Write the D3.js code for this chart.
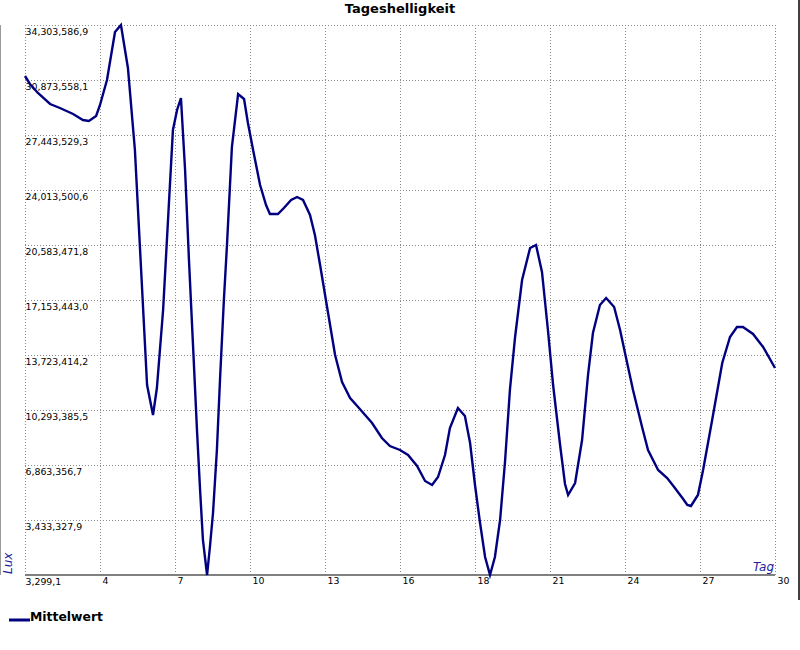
<!DOCTYPE html>
<html>
<head>
<meta charset="utf-8">
<script src="https://cdn.jsdelivr.net/npm/d3@7"></script>
<style>
  html, body { margin: 0; padding: 0; background: #fff; }
  svg { display: block; }
</style>
</head>
<body>
<svg id="chart" width="800" height="650"></svg>
<script>
// ---- data ----
const days = [1.00, 1.19, 1.50, 1.97, 2.35, 2.86, 3.24, 3.47, 3.75, 3.90, 4.17, 4.48, 4.71, 4.98, 5.25, 5.49, 5.72, 5.95,
  6.10, 6.34, 6.53, 6.72, 6.88, 7.03, 7.19, 7.34, 7.50, 7.65, 7.77, 7.88, 8.04, 8.15, 8.27, 8.42, 8.54, 8.69, 8.81,
  9.00, 9.24, 9.47, 9.62, 9.82, 10.09, 10.32, 10.47, 10.78, 11.01, 11.29, 11.52, 11.75, 12.02, 12.21, 12.41, 12.68,
  12.99, 13.26, 13.57, 13.88, 14.15, 14.42, 14.80, 15.11, 15.50, 15.81, 16.16, 16.47, 16.74, 16.97, 17.24, 17.43,
  17.74, 18.01, 18.21, 18.40, 18.59, 18.79, 18.98, 19.17, 19.37, 19.56, 19.75, 19.95, 20.22, 20.53, 20.76, 20.99,
  21.22, 21.42, 21.69, 21.88, 22.00, 22.27, 22.54, 22.77, 22.96, 23.23, 23.47, 23.78, 24.01, 24.20, 24.51, 24.86,
  25.09, 25.48, 25.83, 26.07, 26.42, 26.61, 26.75, 27.02, 27.22, 27.57, 27.96, 28.26, 28.53, 28.76, 29.15, 29.54, 30.00];

const lux = [31122900, 30624000, 30062700, 29376700, 29127300, 28753100, 28378900, 28316600, 28628400, 29314400,
  30873500, 33867000, 34303586.9, 31621800, 26508000, 19024300, 11852500, 9981500,
  11665400, 16529800, 22142500, 27755300, 29002600, 29750900, 25260700, 19648000, 14222300, 9046100, 5304200,
  2186000, 3299.1, 1749500, 3869900, 7798800, 12164300, 17153400, 20583400,
  26695100, 30000400, 29688600, 28191800, 26508000, 24325300, 23078000, 22516700, 22516700, 22890900, 23389800,
  23576900, 23389800, 22454300, 21207100, 19336100, 16716900,
  13723400, 12039600, 11041700, 10480500, 9981500, 9482600, 8547200, 8048300, 7798800, 7487000, 6801000, 5865500,
  5616100, 6115000, 7487000, 9170800,
  10418100, 9919200, 8235300, 5616100, 3308600, 1125900, 3299.1, 1125900, 3433300, 7050400, 11540600, 14845900,
  18400700, 20396300, 20583400, 18899600,
  15282500, 11852500, 8110600, 5678400, 4992400, 5740800, 8422400, 12476100, 15095400, 16841600, 17278100,
  16716900, 15282500, 13848100, 11540600, 9233200,
  7798800, 6551500, 6052600, 5553700, 4805300, 4368800, 4306400, 4992400, 6551500, 9669700, 13224500, 14845900,
  15469600, 15469600, 15033000, 14222300, 12912600];

const yTickLabels = ["3,299,1", "3,433,327,9", "6,863,356,7", "10,293,385,5", "13,723,414,2", "17,153,443,0",
  "20,583,471,8", "24,013,500,6", "27,443,529,3", "30,873,558,1", "34,303,586,9"];
const xTickLabels = ["", "4", "7", "10", "13", "16", "18", "21", "24", "27", "30"];

const chartTitle = "Tageshelligkeit";
const yAxisTitle = "Lux";
const xAxisTitle = "Tag";
const seriesName = "Mittelwert";

// ---- layout ----
const svg = d3.select("#chart");
const plotL = 25, plotR = 775, plotT = 25, plotB = 575;
const font = "'DejaVu Sans', Verdana, sans-serif";
const lineColor = "#000080";
const gridColor = "#8a8a8a";

const xMin = d3.min(days), xMax = d3.max(days);
const yMin = d3.min(lux), yMax = d3.max(lux);

const x = d3.scaleLinear().domain([xMin, xMax]).range([plotL, plotR]);
const y = d3.scaleLinear().domain([yMin, yMax]).range([plotB, plotT]);

const xTicks = d3.range(11).map(i => xMin + i * (xMax - xMin) / 10);
const yTicks = d3.range(11).map(i => yMin + i * (yMax - yMin) / 10);

// frame lines at the edges
svg.append("line").attr("x1", 0.5).attr("x2", 0.5).attr("y1", plotT).attr("y2", plotB)
  .attr("stroke", "#9a9a9a").attr("stroke-width", 1);
svg.append("line").attr("x1", 799).attr("x2", 799).attr("y1", 0).attr("y2", 600)
  .attr("stroke", "#000").attr("stroke-width", 1.5);

// title
svg.append("text").attr("x", 400).attr("y", 13).attr("text-anchor", "middle")
  .attr("font-family", font).attr("font-size", "13px").attr("font-weight", "bold")
  .text(chartTitle);

// y axis (gridlines + labels inside plot)
const yAxis = d3.axisLeft(y).tickValues(yTicks).tickFormat((d, i) => yTickLabels[i]).tickSize(-(plotR - plotL)).tickPadding(0);
const gy = svg.append("g").attr("transform", `translate(${plotL},0)`).call(yAxis);
gy.select(".domain").remove();
gy.selectAll(".tick line").attr("stroke", gridColor).attr("stroke-dasharray", "1,2").attr("shape-rendering", "crispEdges");
gy.selectAll(".tick text").attr("x", 0.5).attr("dy", "9px").attr("text-anchor", "start")
  .attr("font-family", font).attr("font-size", "9.4px").attr("fill", "#000");

// x axis (gridlines + labels)
const xAxis = d3.axisBottom(x).tickValues(xTicks).tickFormat((d, i) => xTickLabels[i]).tickSize(-(plotB - plotT)).tickPadding(0);
const gx = svg.append("g").attr("transform", `translate(0,${plotB})`).call(xAxis);
gx.select(".domain").remove();
gx.selectAll(".tick line").attr("stroke", gridColor).attr("stroke-dasharray", "1,2").attr("shape-rendering", "crispEdges");
gx.selectAll(".tick text").attr("x", 2).attr("y", 9).attr("dy", 0).attr("text-anchor", "start")
  .attr("font-family", font).attr("font-size", "9.4px").attr("fill", "#000");

// bottom axis line
svg.append("line").attr("x1", x(xMin)).attr("x2", x(xMax)).attr("y1", y(yMin)).attr("y2", y(yMin))
  .attr("stroke", "#808080").attr("stroke-width", 2);

// axis titles
svg.append("text").attr("transform", `translate(12,${plotB - 1}) rotate(-90)`)
  .attr("font-family", font).attr("font-size", "12px").attr("font-style", "italic")
  .attr("fill", "#1c1c9c").text(yAxisTitle);
svg.append("text").attr("x", plotR - 1).attr("y", plotB - 4).attr("text-anchor", "end")
  .attr("font-family", font).attr("font-size", "12px").attr("font-style", "italic")
  .attr("fill", "#1c1c9c").text(xAxisTitle);

// series line
const pts = days.map((d, i) => [d, lux[i]]);
const line = d3.line().x(d => x(d[0])).y(d => y(d[1])).curve(d3.curveLinear);
svg.append("path").datum(pts).attr("d", line).attr("fill", "none")
  .attr("stroke", lineColor).attr("stroke-width", 2.4).attr("stroke-linejoin", "miter");

// legend
svg.append("line").attr("x1", 9).attr("x2", 30).attr("y1", 620).attr("y2", 620)
  .attr("stroke", lineColor).attr("stroke-width", 3);
svg.append("text").attr("x", 30).attr("y", 621)
  .attr("font-family", font).attr("font-size", "12.4px").attr("font-weight", "bold")
  .attr("fill", "#000").text(seriesName);
</script>
</body>
</html>
